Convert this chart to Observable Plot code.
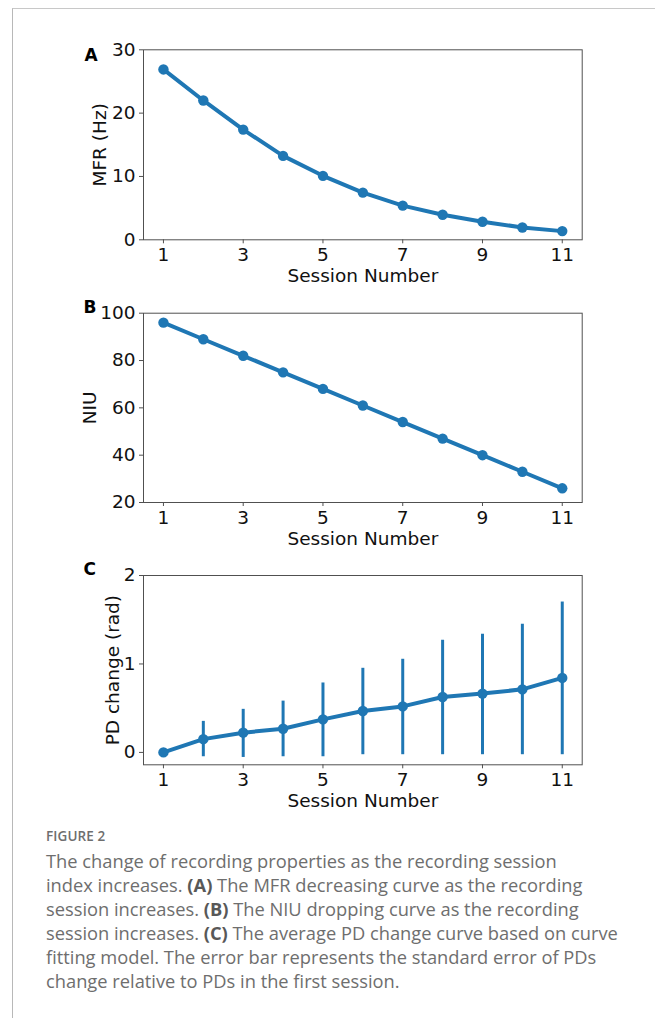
<!DOCTYPE html>
<html>
<head>
<meta charset="utf-8">
<script src="https://cdn.jsdelivr.net/npm/d3@7"></script>
<script src="https://cdn.jsdelivr.net/npm/@observablehq/plot@0.6"></script>
<style>
  html, body { margin: 0; padding: 0; background: #fff; }
  #page { position: relative; width: 655px; height: 1018px; overflow: hidden; background: #fff; }
  #border { position: absolute; left: 12px; top: 8px; width: 700px; height: 1100px;
            border-left: 1.5px solid #b8b8b8; border-top: 1.5px solid #c8c8c8; }
  .panel { position: absolute; left: 0; }
  #caption { position: absolute; left: 46px; top: 826px; width: 620px; font-family: "Open Sans", "Noto Sans", sans-serif; color: #6e6e6e; }
  #caption .fig { font-size: 13.5px; font-weight: 600; letter-spacing: 0.1px; line-height: 20px; margin-bottom: 3px; }
  #caption .body { font-size: 18.3px; line-height: 24px; white-space: nowrap; }
  #caption b { font-weight: 700; color: #585858; }
</style>
</head>
<body>
<div id="page">
  <div id="border"></div>
  <div id="pA" class="panel" style="top:30px"></div>
  <div id="pB" class="panel" style="top:295px"></div>
  <div id="pC" class="panel" style="top:558px"></div>
  <div id="caption">
    <div class="fig">FIGURE 2</div>
    <div class="body">The change of recording properties as the recording session<br>index increases. <b>(A)</b> The MFR decreasing curve as the recording<br>session increases. <b>(B)</b> The NIU dropping curve as the recording<br>session increases. <b>(C)</b> The average PD change curve based on curve<br>fitting model. The error bar represents the standard error of PDs<br>change relative to PDs in the first session.</div>
  </div>
</div>
<script>
// ---- data ----
const sessions = [1, 2, 3, 4, 5, 6, 7, 8, 9, 10, 11];
const mfr = [26.9, 22.0, 17.4, 13.25, 10.1, 7.45, 5.4, 3.95, 2.85, 1.95, 1.37];
const niu = [96, 89, 82, 75, 68, 61, 54, 47, 40, 33, 26];
const pdChange = [0, 0.15, 0.223, 0.268, 0.374, 0.468, 0.52, 0.626, 0.665, 0.713, 0.842];
const pdLow = [null, -0.049, -0.057, -0.049, -0.049, -0.026, -0.026, -0.026, -0.026, -0.026, -0.026];
const pdHigh = [null, 0.351, 0.487, 0.58, 0.785, 0.951, 1.053, 1.268, 1.336, 1.449, 1.70];
const xTicks = [1, 3, 5, 7, 9, 11];
const yTicksA = [0, 10, 20, 30];
const yTicksB = [20, 40, 60, 80, 100];
const yTicksC = [0, 1, 2];
const xLabel = "Session Number";
const yLabelA = "MFR (Hz)";
const yLabelB = "NIU";
const yLabelC = "PD change (rad)";
const letters = ["A", "B", "C"];

const BLUE = "#1f77b4";
const SPINE = "#505050";

function panel({values, yDomain, yTicks, yLabel, yLabelOffset, letter, letterDx, letterDy, marginTop, height, frameH, errLo, errHi}) {
  const data = sessions.map((s, i) => ({session: s, value: values[i]}));
  const marks = [
    Plot.frame({stroke: SPINE, strokeWidth: 1}),
    Plot.axisX({ticks: xTicks, tickSize: 4, tickPadding: 4.3, tickFormat: d => String(d),
      label: xLabel, labelAnchor: "center", labelOffset: 42.4, labelArrow: "none",
      fill: "#111", stroke: SPINE}),
    Plot.axisY({ticks: yTicks, tickSize: 4, tickPadding: 4, tickFormat: d => String(d),
      label: yLabel, labelAnchor: "center", labelOffset: yLabelOffset, labelArrow: "none",
      fill: "#111", stroke: SPINE})
  ];
  if (errLo) {
    const err = sessions.map((s, i) => ({session: s, lo: errLo[i], hi: errHi[i]})).filter(d => d.lo != null);
    marks.push(Plot.ruleX(err, {x: "session", y1: "lo", y2: "hi", stroke: BLUE, strokeWidth: 3}));
  }
  marks.push(
    Plot.line(data, {x: "session", y: "value", stroke: BLUE, strokeWidth: 4}),
    Plot.dot(data, {x: "session", y: "value", r: 5.2, fill: BLUE, stroke: "none"}),
    Plot.text([letter], {frameAnchor: "top-left", dx: letterDx, dy: letterDy, textAnchor: "start",
      lineAnchor: "bottom", fontWeight: "bold", fontSize: 17, fill: "#000"})
  );
  return Plot.plot({
    width: 655,
    height,
    marginLeft: 143,
    marginRight: 655 - 581.7,
    marginTop,
    marginBottom: height - marginTop - frameH,
    style: {fontFamily: "'DejaVu Sans'", fontSize: "18.5px", background: "transparent", overflow: "visible"},
    x: {domain: [0.5, 11.5]},
    y: {domain: yDomain},
    marks
  });
}

document.getElementById("pA").append(panel({
  values: mfr, yDomain: [0, 30], yTicks: yTicksA, yLabel: yLabelA, yLabelOffset: 50.5,
  letter: letters[0], letterDx: -59, letterDy: 11.4, marginTop: 19.3, height: 265, frameH: 190
}));
document.getElementById("pB").append(panel({
  values: niu, yDomain: [20, 100], yTicks: yTicksB, yLabel: yLabelB, yLabelOffset: 60.3,
  letter: letters[1], letterDx: -60, letterDy: 0, marginTop: 17.7, height: 265, frameH: 189.3
}));
document.getElementById("pC").append(panel({
  values: pdChange, yDomain: [-0.14, 2], yTicks: yTicksC, yLabel: yLabelC, yLabelOffset: 38,
  letter: letters[2], letterDx: -60, letterDy: -1, marginTop: 17, height: 265, frameH: 189.3,
  errLo: pdLow, errHi: pdHigh
}));
</script>
</body>
</html>
